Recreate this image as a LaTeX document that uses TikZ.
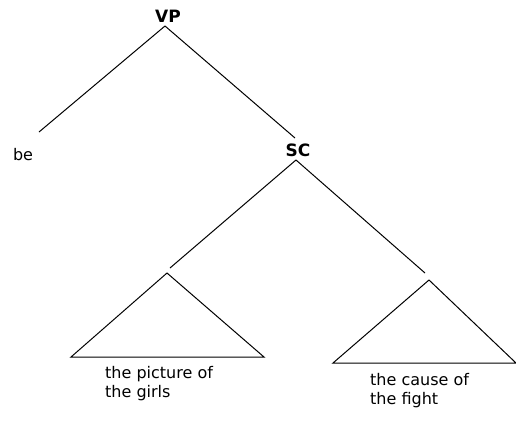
\documentclass[tikz,border=0pt]{standalone}
\usepackage{fontspec}
\setmainfont{DejaVu Sans}
\begin{document}
\begin{tikzpicture}[x=1pt,y=-1pt,
  lbl/.style={inner sep=0pt,font=\fontsize{16}{19.5}\selectfont},
  cat/.style={inner sep=0pt,font=\fontsize{17}{19}\selectfont\bfseries},
  edge/.style={draw=black,line width=1pt},
  tri/.style={draw=black,line width=1pt}]
\useasboundingbox (0,0) rectangle (516,424);
\node[cat] (VP) at (168,16) {VP};
\node[cat] (SC) at (298,150) {SC};
\node[lbl] (be) at (23,155) {be};
\coordinate (vpb) at (165,26);
\coordinate (bee) at (39,132);
\coordinate (sct) at (295,138);
\coordinate (scb) at (296,160);
\coordinate (l1) at (170,268);
\coordinate (r1) at (425,273);
\coordinate (ta) at (167,273);
\coordinate (tb1) at (71,357);
\coordinate (tb2) at (264,357);
\coordinate (ua) at (429,280);
\coordinate (ub1) at (333,363);
\coordinate (ub2) at (516,363);
\draw[edge] (vpb) -- (bee);
\draw[edge] (vpb) -- (sct);
\draw[edge] (scb) -- (l1);
\draw[edge] (scb) -- (r1);
\draw[tri,line join=miter] (ta) -- (tb2) -- (tb1) -- cycle;
\draw[tri,line join=miter] (ua) -- (ub2) -- (ub1) -- cycle;
\node[lbl,anchor=north west,align=left] (np1) at (105,366) {the picture of\\the girls};
\node[lbl,anchor=north west,align=left] (np2) at (370,373) {the cause of\\the fight};
\end{tikzpicture}
\end{document}
